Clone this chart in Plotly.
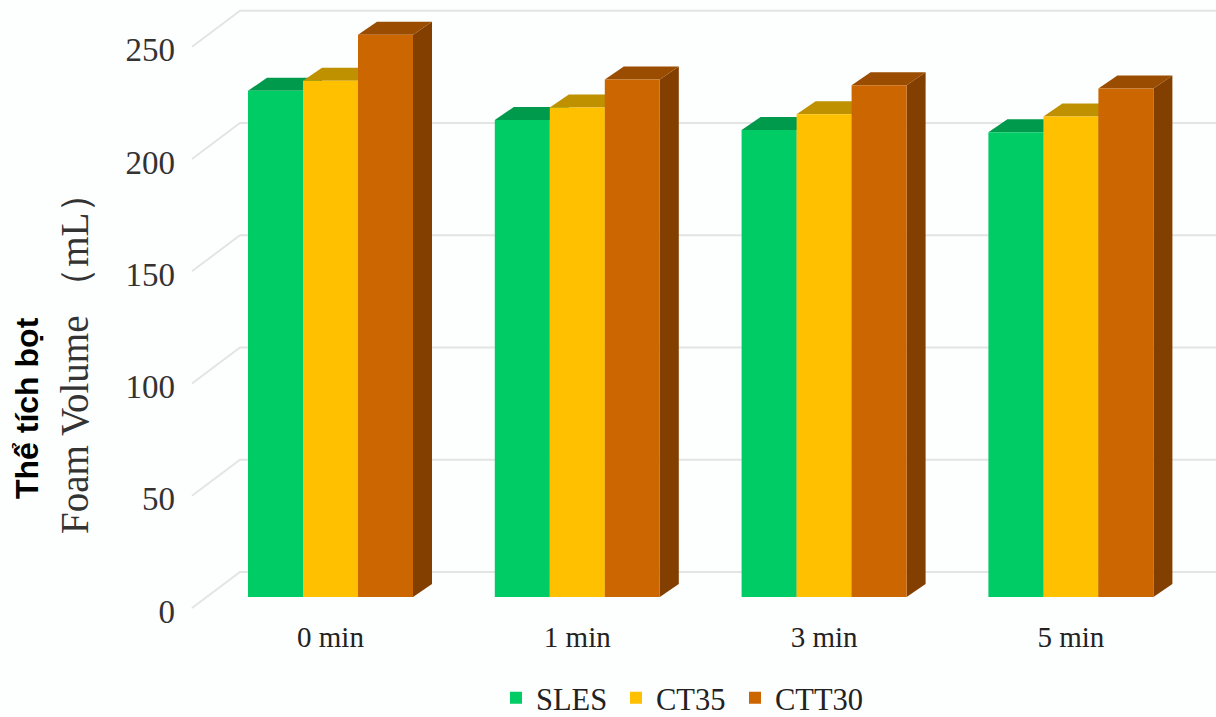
import plotly.graph_objects as go

categories = ["0 min", "1 min", "3 min", "5 min"]
series_names = ["SLES", "CT35", "CTT30"]
sles = [225.5, 212.5, 208, 207]
ct35 = [230, 218, 215, 214]
ctt30 = [250.5, 230.5, 228, 226.5]
y_ticks = [0, 50, 100, 150, 200, 250]

front_colors = ["#00cc66", "#ffc000", "#cc6600"]
top_colors = ["#009a4d", "#bf9000", "#9a4d00"]
side_colors = ["#007a3d", "#997300", "#833f00"]
GRID = "#e4e4e4"
PAPER = "#fdfefe"

W, H = 1216, 717
PX_PER_CAT = 246.8
PX_PER_UNIT = 2.245
X0_PX = 330.5          # pixel centre of first category
Y0_PX = 597            # pixel of value 0
LEFT_PX, BOTTOM_PX = 185, 612
BAR_W = 55 / PX_PER_CAT
DX, DY = 19 / PX_PER_CAT, 13 / PX_PER_UNIT      # bar depth
GY = 25 / PX_PER_UNIT                           # bar plane -> back wall

x_range = [(LEFT_PX - X0_PX) / PX_PER_CAT, (W - X0_PX) / PX_PER_CAT]
y_range = [-(BOTTOM_PX - Y0_PX) / PX_PER_UNIT, Y0_PX / PX_PER_UNIT]

shapes = []
wall_x = x_range[0] + 55 / PX_PER_CAT
left_x = x_range[0] + 7 / PX_PER_CAT
for v in y_ticks:
    back = v + GY
    shapes.append(dict(type="path", layer="below", xref="x", yref="y",
                       path=f"M{left_x},{back - 36 / PX_PER_UNIT} L{wall_x},{back} L{x_range[1]},{back}",
                       line=dict(color=GRID, width=2)))

all_values = [sles, ct35, ctt30]
for s, vals in enumerate(all_values):
    for c, v in enumerate(vals):
        l = c + (s - 1.5) * BAR_W
        r = l + BAR_W
        shapes.append(dict(type="path", layer="below", xref="x", yref="y",
                           path=f"M{r},0 L{r + DX},{DY} L{r + DX},{v + DY} L{r},{v} Z",
                           fillcolor=side_colors[s], line=dict(width=0)))
        shapes.append(dict(type="path", layer="below", xref="x", yref="y",
                           path=f"M{l},{v} L{l + DX},{v + DY} L{r + DX},{v + DY} L{r},{v} Z",
                           fillcolor=top_colors[s], line=dict(width=0)))

legend_ids = ["legend", "legend2", "legend3"]
legend_left_px = [496, 616, 735]

fig = go.Figure()
for s, vals in enumerate(all_values):
    fig.add_trace(go.Bar(x=categories, y=vals, name=series_names[s], legend=legend_ids[s],
                         showlegend=True,
                         marker=dict(color=front_colors[s], line=dict(width=0))))

SERIF = "Liberation Serif, serif"
legends = {
    lid: dict(orientation="h", x=px / W, y=(H - 698) / H, xanchor="left", yanchor="middle",
              font=dict(size=30.5, family=SERIF, color="#222222"),
              itemwidth=30, bgcolor="rgba(0,0,0,0)")
    for lid, px in zip(legend_ids, legend_left_px)
}
fig.update_layout(
    width=W, height=H, autosize=False, showlegend=True,
    paper_bgcolor=PAPER, plot_bgcolor=PAPER,
    margin=dict(l=0, r=0, t=0, b=0, autoexpand=False),
    barmode="group", bargap=1 - 3 * BAR_W, bargroupgap=0,
    shapes=shapes,
    font=dict(family=SERIF, color="#222222"),
    xaxis=dict(domain=[LEFT_PX / W, 1], range=x_range, type="category",
               showgrid=False, zeroline=False, showline=False, ticks="",
               tickfont=dict(size=29, family=SERIF, color="#222222"),
               ticklabelstandoff=5),
    yaxis=dict(domain=[(H - BOTTOM_PX) / H, 1], range=y_range, tickvals=y_ticks,
               showgrid=False, zeroline=False, showline=False, ticks="",
               tickfont=dict(size=33, family=SERIF, color="#333333"),
               ticklabelstandoff=9, ticklabelshift=14),
    annotations=[
        dict(text="Foam Volume （mL）", xref="paper", yref="paper", x=75 / W, y=(H - 354) / H,
             showarrow=False, textangle=-90, xanchor="center", yanchor="middle",
             font=dict(size=39, family=SERIF, color="#333333")),
        dict(text="<b>Thể tích bọt</b>", xref="paper", yref="paper", x=27 / W, y=(H - 408) / H,
             showarrow=False, textangle=-90, xanchor="center", yanchor="middle",
             font=dict(size=32, family="Liberation Sans, Arial, sans-serif", color="#000000")),
    ],
    **legends,
)
fig.write_html("out.html", config=dict(displayModeBar=False),
               post_script="document.body.style.margin='0';document.body.style.overflow='hidden';document.documentElement.style.background='#fdfefe';")
